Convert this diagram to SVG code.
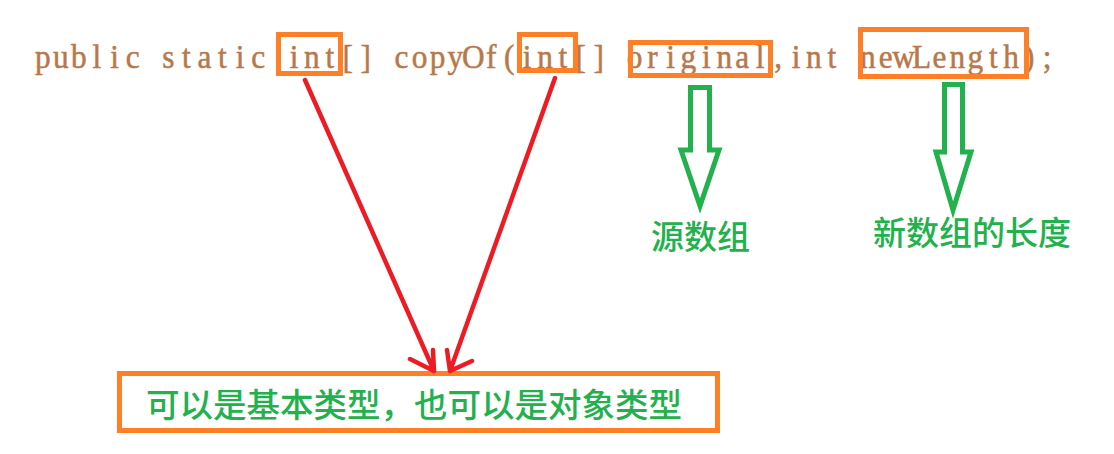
<svg xmlns="http://www.w3.org/2000/svg" width="1114" height="454" viewBox="0 0 1114 454">
  <style>
    .code { font-family: "Liberation Serif", "DejaVu Serif", serif; font-size: 33px; fill: #b8784a; stroke: #b8784a; stroke-width: 0.5; text-anchor: middle; }
    .hl { fill: none; stroke: #ff7f27; stroke-width: 5; }
    .lbl { font-family: "Noto Sans CJK SC", "Noto Sans", sans-serif; font-size: 33px; fill: #22b14c; font-weight: 500; }
    .red { fill: none; stroke: #ed1c24; stroke-width: 4.5; stroke-linecap: round; stroke-linejoin: round; }
    .green { fill: none; stroke: #22b14c; stroke-width: 5; stroke-linejoin: miter; }
  </style>
  <rect width="1114" height="454" fill="#ffffff"/>

  <g id="code-line" transform="scale(0.95,1)">
    <text class="code" y="68" x="45.2 64.1 83.0 101.9 120.7 139.6 158.5 177.3 196.2 215.1 234.0 252.8 271.7 290.6 309.5 328.3 347.2 366.1 384.9 403.8 422.7 441.6 460.5 479.3 498.2 517.1 535.9 554.8 573.7 592.6 611.4 630.3 649.2 668.1 686.9 705.8 724.7 743.6 762.4 781.3 800.2 819.1 837.9 856.8 875.7 894.6 913.4 932.3 951.2 970.1 988.9 1007.8 1026.7 1045.6 1064.4 1083.3 1102.2">public static int[] copyOf(int[] original,int newLength);</text>
  </g>

  <g id="node-int-return">
    <rect class="hl" x="278.5" y="34.5" width="62" height="39"/>
  </g>
  <g id="node-int-param">
    <rect class="hl" x="519.5" y="34.5" width="56" height="36"/>
  </g>
  <g id="node-original">
    <rect class="hl" x="630.5" y="42.5" width="140" height="33"/>
  </g>
  <g id="node-newLength">
    <rect class="hl" x="860.5" y="29.5" width="166" height="47"/>
  </g>

  <g id="node-source-array">
    <text class="lbl" x="651" y="249">源数组</text>
  </g>
  <g id="node-new-length-label">
    <text class="lbl" x="873" y="245">新数组的长度</text>
  </g>

  <g id="node-type-note">
    <rect class="hl" x="119.5" y="373.5" width="598" height="57"/>
    <text class="lbl" x="146" y="417" textLength="536" lengthAdjust="spacingAndGlyphs">可以是基本类型，也可以是对象类型</text>
  </g>

  <g id="connectors">
    <path class="red" d="M305 80 L434 371 M410 359 L434 371 L433 350"/>
    <path class="red" d="M555 78 L450 371 M447 350 L450 371 L472 361"/>
    <polygon class="green" points="690.5,87.5 709.5,87.5 709.5,150 719,150 700,206 681,150 690.5,150"/>
    <polygon class="green" points="944.5,84.5 962.5,84.5 962.5,152 971,152 953,210 936,152 944.5,152"/>
  </g>
</svg>
